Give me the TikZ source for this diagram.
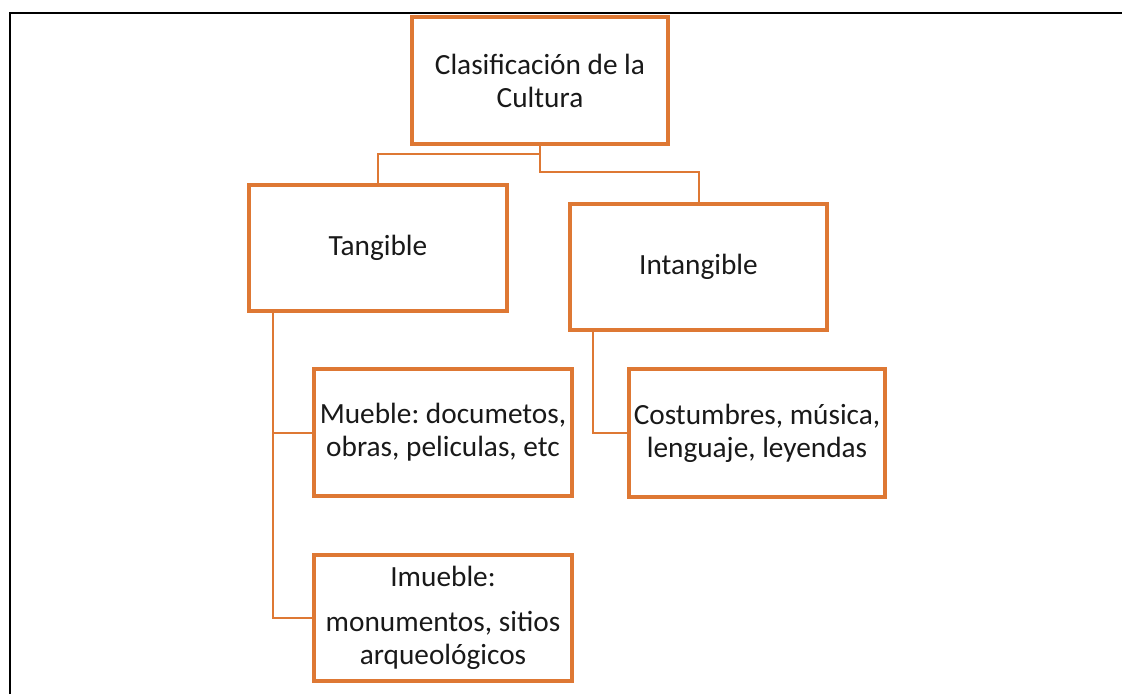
\documentclass[tikz,border=0pt]{standalone}
\usepackage{fontspec}
\setmainfont{Carlito}
\frenchspacing
\definecolor{org}{RGB}{222,120,52}
\definecolor{txt}{RGB}{25,25,25}
\begin{document}
\begin{tikzpicture}[x=1pt,y=-1pt,
  box/.style={draw=org, line width=4.3pt, inner sep=0pt, align=center, text=txt,
    font=\fontsize{29.3}{33}\selectfont},
  conn/.style={draw=org, line width=2pt},
  frame/.style={draw=black, line width=2pt}]
\useasboundingbox (0,0) rectangle (1122,694);
\draw[frame] (10,694) -- (10,13) -- (1122,13);
\node[box, minimum width=256pt, minimum height=127pt] (root) at (540,80.5) {Clasificación de la\\Cultura};
\node[box, minimum width=258pt, minimum height=126pt] (tang) at (378,248) {Tangible};
\node[box, minimum width=257pt, minimum height=126pt] (intang) at (698.5,267) {Intangible};
\node[box, minimum width=258pt, minimum height=127pt] (mueble) at (443,432.5) {Mueble: documetos,\\obras, peliculas, etc};
\node[box, minimum width=258pt, minimum height=126pt] (imueble) at (443,618) {Imueble:\\[12pt]monumentos, sitios\\arqueológicos};
\node[box, minimum width=256pt, minimum height=128pt] (cost) at (757,433) {Costumbres, música,\\lenguaje, leyendas};
\draw[conn] (root.south) -- ++(0,8) -| (tang.north);
\draw[conn] (root.south) -- ++(0,26) -| (intang.north);
\draw[conn] ([xshift=26pt]tang.south west) |- (mueble.west);
\draw[conn] ([xshift=26pt]tang.south west) |- (imueble.west);
\draw[conn] ([xshift=25pt]intang.south west) |- (cost.west);
\end{tikzpicture}
\end{document}
